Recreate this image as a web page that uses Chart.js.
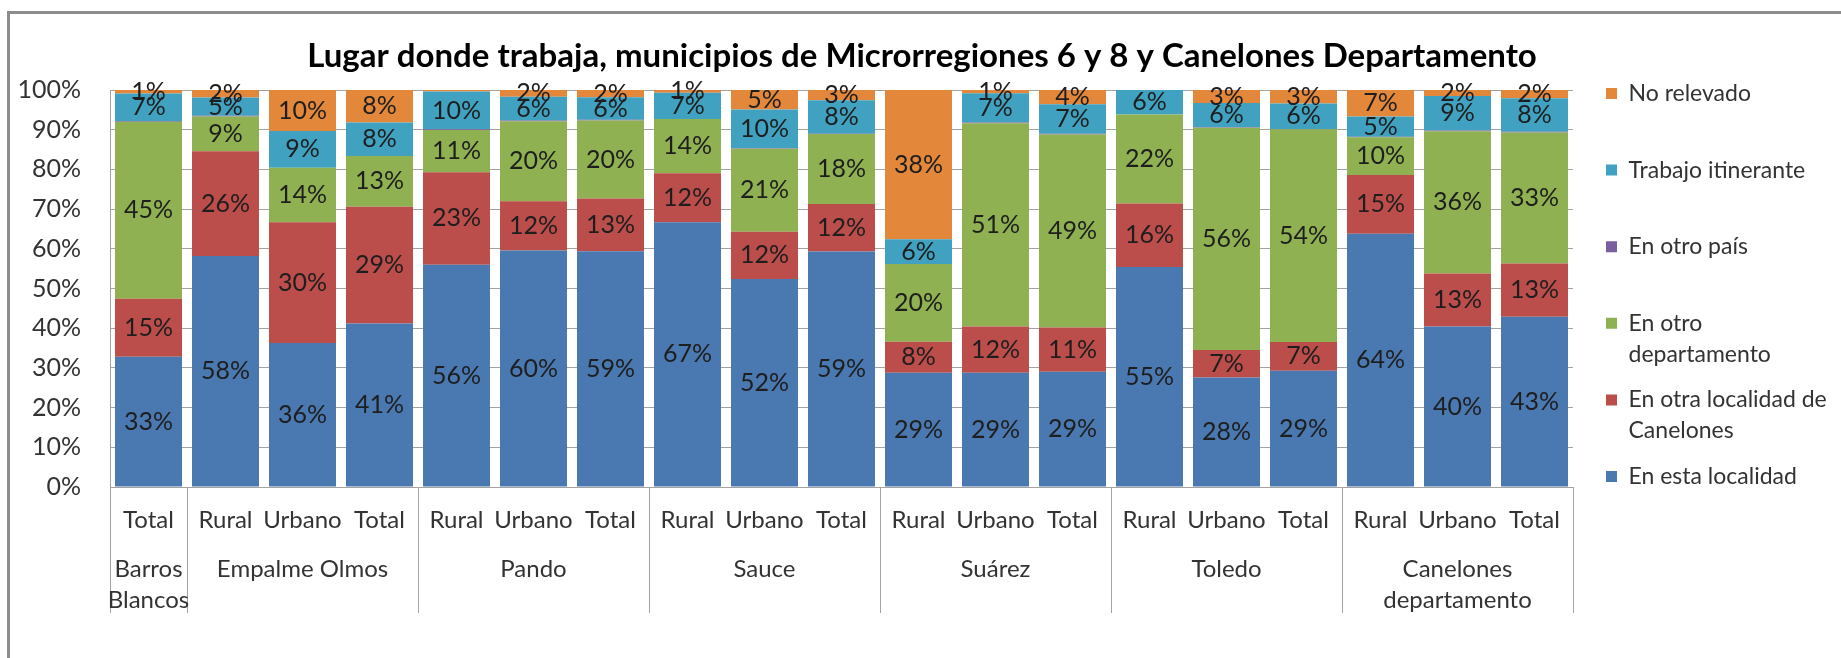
<!DOCTYPE html>
<html><head><meta charset="utf-8">
<script src="https://cdn.jsdelivr.net/npm/chart.js@4.4.1/dist/chart.umd.min.js"></script>
<style>
html,body{margin:0;padding:0;background:#fff;}
#wrap{position:relative;width:1841px;height:658px;overflow:hidden;background:#fff;}
#frame{position:absolute;left:7px;top:11px;width:1900px;height:700px;border-left:3px solid #8c8c8c;border-top:3px solid #8c8c8c;pointer-events:none;}
canvas{position:absolute;left:0;top:0;}
</style></head><body>
<div id="wrap"><canvas id="c" width="1841" height="658"></canvas><div id="frame"></div></div>
<script>
// ---------- data ----------
const chartTitle = 'Lugar donde trabaja, municipios de Microrregiones 6 y 8 y Canelones Departamento';
const categories = ['Total','Rural','Urbano','Total','Rural','Urbano','Total','Rural','Urbano','Total','Rural','Urbano','Total','Rural','Urbano','Total','Rural','Urbano','Total'];
const groups = [['Barros','Blancos'],'Empalme Olmos','Pando','Sauce','Suárez','Toledo',['Canelones','departamento']];
const groupSizes = [1,3,3,3,3,3,3];
const seriesNames = ['En esta localidad','En otra localidad de Canelones','En otro departamento','En otro país','Trabajo itinerante','No relevado'];
const legendLines = [['En esta localidad',''],['En otra localidad de','Canelones'],['En otro','departamento'],['En otro país',''],['Trabajo itinerante',''],['No relevado','']];
const enEstaLocalidad   = [32.8,58.2,36.3,41.2,56.0,59.6,59.4,66.7,52.4,59.3,28.8,28.8,29.0,55.4,27.6,29.3,63.8,40.4,42.9];
const enOtraLocalidad   = [14.6,26.4,30.4,29.4,23.3,12.4,13.3,12.3,11.9,12.0, 7.8,11.6,11.2,16.0, 6.9, 7.2,14.8,13.4,13.4];
const enOtroDepto       = [44.6, 8.7,13.7,12.8,10.6,20.1,19.6,13.7,20.9,17.6,19.6,51.2,48.6,22.4,56.0,53.6, 9.5,35.8,33.0];
const enOtroPais        = [ 0.2, 0.2, 0.0, 0.0, 0.2, 0.2, 0.2, 0.0, 0.1, 0.1, 0.0, 0.2, 0.2, 0.0, 0.1, 0.1, 0.1, 0.2, 0.2];
const trabajoItinerante = [ 6.9, 4.6, 9.3, 8.4, 9.5, 6.0, 5.7, 6.6, 9.8, 8.4, 6.2, 7.4, 7.4, 6.2, 6.1, 6.4, 5.1, 8.7, 8.4];
const noRelevado        = [ 0.9, 1.9,10.3, 8.2, 0.4, 1.7, 1.8, 0.7, 4.9, 2.6,37.6, 0.8, 3.6, 0.0, 3.3, 3.4, 6.7, 1.5, 2.1];
const seriesValues = [enEstaLocalidad, enOtraLocalidad, enOtroDepto, enOtroPais, trabajoItinerante, noRelevado];
const seriesColors = ['#4a78b0','#bb4d4a','#8fb151','#7b5ea0','#40a2c0','#e3873b'];
const seriesShowLabels = [true,true,true,false,true,true];

// ---------- style / layout ----------
const FONT = 'Lato';
const LABEL_SIZE = 25, TICK_SIZE = 25, XLAB_SIZE = 24, LEG_SIZE = 23, TITLE_SIZE = 33;
const LEG_PAD = 14.6, LEG_BOX = 11;
const mctx = document.createElement('canvas').getContext('2d');
function tw(font, s){ mctx.font = font; return mctx.measureText(s).width; }
const longestLegend = legendLines.flat().reduce((a,b)=> a.length >= b.length ? a : b);
const legTextW = tw(`normal ${LEG_SIZE}px ${FONT}`, longestLegend);
const legendW = LEG_PAD + LEG_BOX + LEG_SIZE/2 + legTextW + 10;
const legendLeft = 1606 - LEG_PAD;
const padRight = 1841 - legendLeft - legendW;
const padLeft = padRight + 3;
const plotLeft = 110, plotRight = 1573, plotTop = 90, plotBottom = 487;
const yTickPad = 29;
const rightSpacer = legendLeft - plotRight;

// group axis labels & boundaries
const groupAxisLabels = [];
const groupStarts = new Set();
groups.forEach((g, gi) => {
  const n = groupSizes[gi];
  groupStarts.add(groupAxisLabels.length);
  for (let k = 0; k < n; k++) groupAxisLabels.push(k === Math.floor(n/2) ? g : '');
});

const valueLabels = {
  id: 'valueLabels',
  afterDatasetsDraw(chart) {
    const ctx = chart.ctx;
    ctx.save();
    ctx.font = `normal ${LABEL_SIZE}px ${FONT}`;
    ctx.fillStyle = '#1e1e1e';
    ctx.textAlign = 'center';
    ctx.textBaseline = 'middle';
    chart.data.datasets.forEach((ds, di) => {
      if (!seriesShowLabels[di]) return;
      const meta = chart.getDatasetMeta(di);
      meta.data.forEach((bar, i) => {
        const r = Math.round(ds.data[i]);
        if (r < 1) return;
        const p = bar.getCenterPoint();
        ctx.fillText(r + '%', p.x, p.y);
      });
    });
    ctx.restore();
  }
};

const gridGray = '#a3a3a3';
const xLabH = 1.2 * XLAB_SIZE;
const xPad = 520 - plotBottom - xLabH / 2;
new Chart(document.getElementById('c'), {
  type: 'bar',
  data: {
    labels: categories,
    datasets: seriesNames.map((name, i) => ({
      label: name, data: seriesValues[i], backgroundColor: seriesColors[i], borderWidth: 0
    }))
  },
  plugins: [valueLabels],
  options: {
    responsive: false, animation: false, events: [],
    layout: { padding: { left: padLeft, right: padRight, top: 0, bottom: 0 } },
    datasets: { bar: { barPercentage: 0.87, categoryPercentage: 1 } },
    plugins: {
      tooltip: { enabled: false },
      title: {
        display: true, text: chartTitle, color: '#000',
        font: { family: FONT, size: TITLE_SIZE, weight: 'bold', lineHeight: 1.2 },
        padding: { top: 56 - 0.6*TITLE_SIZE, bottom: plotTop - 56 - 0.6*TITLE_SIZE }
      },
      legend: {
        position: 'right', align: 'start', reverse: true,
        title: { display: true, text: ' ', font: { size: 10, lineHeight: '10px' }, padding: { top: 93.5 - LEG_SIZE/2 - LEG_PAD - 10, bottom: 0 } },
        labels: {
          boxWidth: LEG_BOX, boxHeight: LEG_BOX, padding: LEG_PAD, color: '#333',
          font: { family: FONT, size: LEG_SIZE, lineHeight: '31px' },
          generateLabels(chart) {
            const items = Chart.defaults.plugins.legend.labels.generateLabels(chart);
            items.forEach(it => { it.text = legendLines[it.datasetIndex]; it.lineWidth = 0; });
            return items;
          }
        }
      }
    },
    scales: {
      x: {
        stacked: true, position: 'bottom',
        grid: { display: true, drawOnChartArea: false, drawTicks: false, color: gridGray },
        border: { display: true, color: gridGray, width: 1 },
        ticks: { autoSkip: false, maxRotation: 0, minRotation: 0, padding: xPad, color: '#333', font: { family: FONT, size: XLAB_SIZE } },
        title: { display: true, text: ' ', padding: 0, font: { size: 10, lineHeight: (658 - plotBottom - xLabH - 2*xPad) + 'px' } }
      },
      x2: {
        type: 'category', labels: groupAxisLabels, offset: true, position: { y: 0 },
        grid: {
          offset: true, drawOnChartArea: false, drawTicks: true, tickLength: 126, lineWidth: 1,
          color: (ctx) => (ctx.index === undefined || groupStarts.has(ctx.index)) ? gridGray : 'rgba(0,0,0,0)'
        },
        border: { display: false },
        ticks: { autoSkip: false, maxRotation: 0, minRotation: 0, padding: 569 - plotBottom - 126 - 15.5, color: '#333', font: { family: FONT, size: XLAB_SIZE, lineHeight: '31px' } }
      },
      y: {
        stacked: true, min: 0, max: 100,
        grid: { color: gridGray, drawTicks: false },
        border: { display: true, color: gridGray },
        ticks: { stepSize: 10, padding: yTickPad, color: '#333', font: { family: FONT, size: TICK_SIZE }, callback: v => v + '%' },
        afterFit: (scale) => { scale.width = plotLeft - padLeft; }
      },
      yR: {
        type: 'linear', position: 'right', display: true,
        grid: { drawOnChartArea: false, drawTicks: true, tickLength: rightSpacer, color: 'rgba(0,0,0,0)' },
        border: { display: false },
        ticks: { display: false }
      }
    }
  }
});
</script>
</body></html>
